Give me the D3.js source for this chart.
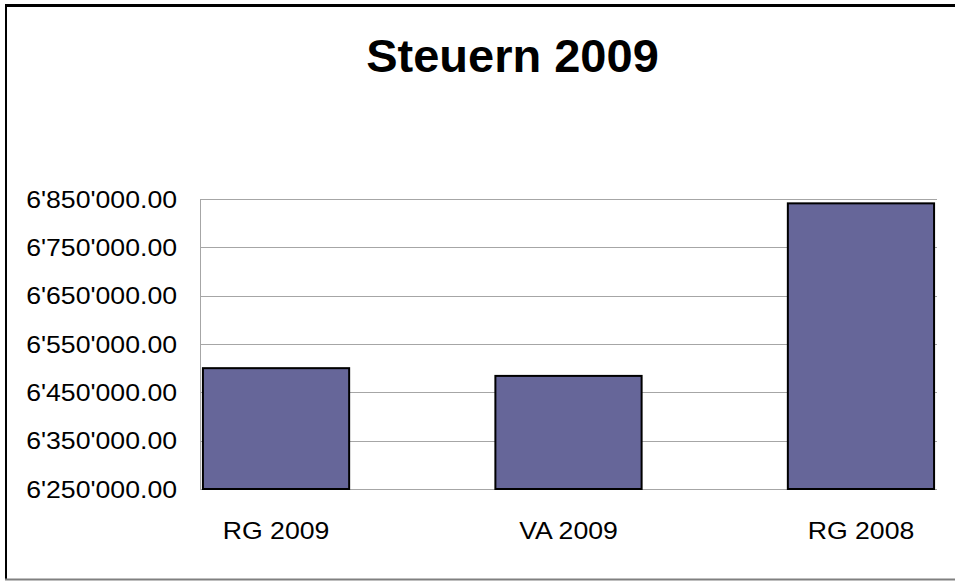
<!DOCTYPE html>
<html>
<head>
<meta charset="utf-8">
<script src="https://cdn.jsdelivr.net/npm/d3@7"></script>
<style>
  body { margin: 0; background: #fff; }
  text { font-family: "Liberation Sans", Arial, sans-serif; fill: #000; }
</style>
</head>
<body>
<div id="chart"></div>
<script>
// data
const categories = ["RG 2009", "VA 2009", "RG 2008"];
const values = [6500000, 6484000, 6841000];
const yTicks = [6250000, 6350000, 6450000, 6550000, 6650000, 6750000, 6850000];
const title = "Steuern 2009";

const width = 955, height = 581;
const plot = { left: 200, right: 937, top: 199, bottom: 489 };
const stretch = 1.11; // labels in the original are a bit wide

// swiss style number format: 6'850'000.00
const fmt = d3.formatLocale({ decimal: ".", thousands: "'", grouping: [3], currency: ["", ""] }).format(",.2f");

const svg = d3.select("#chart").append("svg")
    .attr("width", width).attr("height", height);

// chart frame (top/left dark, bottom grey, right side cut off)
svg.append("line").attr("x1", 5).attr("x2", width).attr("y1", 5.5).attr("y2", 5.5)
    .attr("stroke", "#000").attr("stroke-width", 3);
svg.append("line").attr("x1", 6).attr("x2", 6).attr("y1", 4).attr("y2", 580)
    .attr("stroke", "#000").attr("stroke-width", 2);
svg.append("line").attr("x1", 5).attr("x2", width).attr("y1", 579.5).attr("y2", 579.5)
    .attr("stroke", "#808080").attr("stroke-width", 2);

svg.append("text")
    .attr("x", 512.5).attr("y", 72)
    .attr("text-anchor", "middle")
    .style("font-size", "47px").style("font-weight", "bold")
    .text(title);

const x = d3.scaleBand()
    .domain(categories)
    .range([plot.left, plot.right])
    .paddingInner(0.5)
    .paddingOuter(0.01);

const y = d3.scaleLinear()
    .domain([yTicks[0], yTicks[yTicks.length - 1]])
    .range([plot.bottom, plot.top]);

// gridlines
svg.append("g").selectAll("line")
    .data(yTicks)
    .enter().append("line")
    .attr("x1", plot.left).attr("x2", plot.right)
    .attr("y1", d => Math.round(y(d)) + 0.5).attr("y2", d => Math.round(y(d)) + 0.5)
    .attr("stroke", "#a6a6a6").attr("stroke-width", 1);

// left axis line
svg.append("line")
    .attr("x1", plot.left + 0.5).attr("x2", plot.left + 0.5)
    .attr("y1", plot.top).attr("y2", plot.bottom)
    .attr("stroke", "#a6a6a6");

// tick labels
svg.append("g").selectAll("text")
    .data(yTicks)
    .enter().append("text")
    .attr("transform", d => `translate(177,${y(d) + 8.5}) scale(${stretch},1)`)
    .attr("text-anchor", "end")
    .style("font-size", "24px")
    .text(d => fmt(d));

// bars
svg.append("g").selectAll("rect")
    .data(values)
    .enter().append("rect")
    .attr("x", (d, i) => x(categories[i]))
    .attr("y", d => y(d))
    .attr("width", x.bandwidth())
    .attr("height", d => plot.bottom - y(d))
    .attr("fill", "#666699")
    .attr("stroke", "#000").attr("stroke-width", 2);

// category labels
svg.append("g").selectAll("text")
    .data(categories)
    .enter().append("text")
    .attr("transform", d => `translate(${x(d) + x.bandwidth() / 2},538.5) scale(${stretch},1)`)
    .attr("text-anchor", "middle")
    .style("font-size", "24px")
    .text(d => d);
</script>
</body>
</html>
